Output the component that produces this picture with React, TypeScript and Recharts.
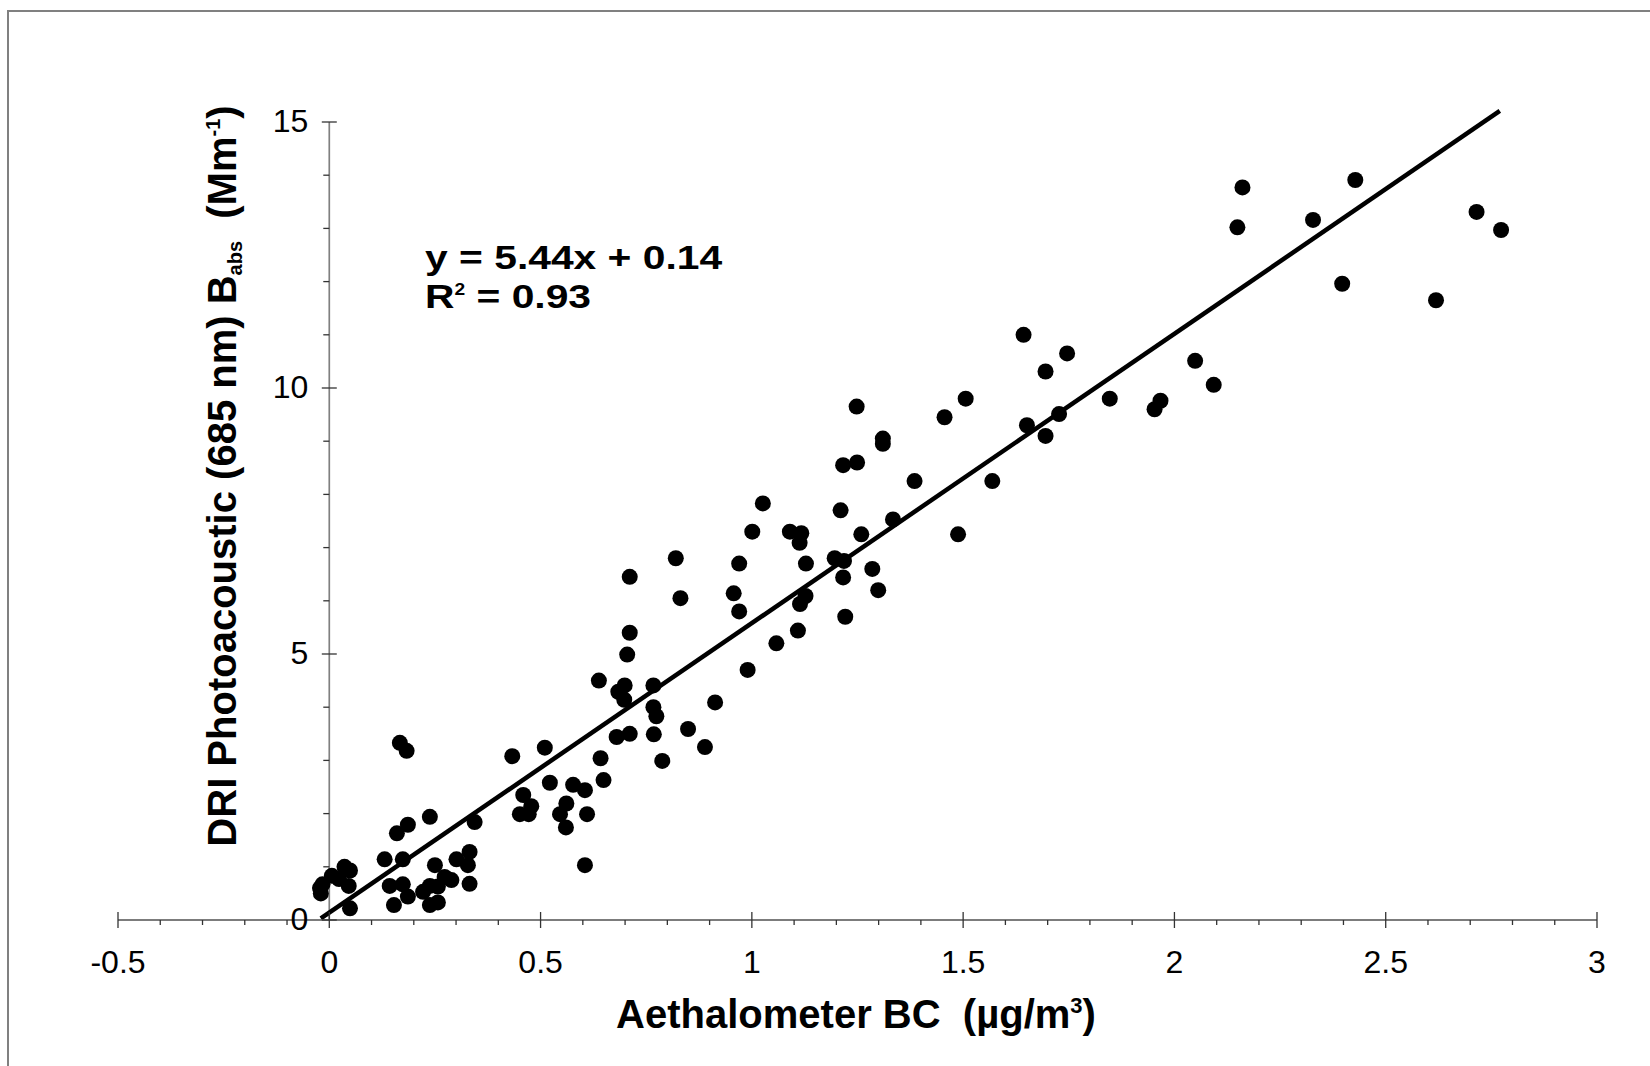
import React from "react";
import {
  ScatterChart,
  Scatter,
  XAxis,
  YAxis,
  ReferenceLine,
  ReferenceDot,
} from "recharts";

// Aethalometer BC (µg/m³)
const bcValues = [
  -0.02, -0.022, -0.016, 0.006, 0.023, 0.036, 0.049, 0.046, 0.049,
  0.131, 0.174, 0.16, 0.186, 0.238, 0.344,
  0.143, 0.174, 0.186, 0.153, 0.222, 0.25, 0.238, 0.257, 0.238, 0.257,
  0.289, 0.301, 0.328, 0.332, 0.332, 0.273, 0.167, 0.183,
  0.433, 0.51, 0.459, 0.478, 0.451, 0.472, 0.522, 0.577, 0.605, 0.561,
  0.546, 0.61, 0.56, 0.605, 0.642, 0.649, 0.638, 0.68, 0.711, 0.684,
  0.699, 0.698, 0.705, 0.711, 0.711, 0.767, 0.767, 0.774, 0.768, 0.788,
  0.849, 0.889, 0.913, 0.82, 0.831, 0.97, 0.957, 0.97, 0.99, 1.058,
  1.109, 1.114, 1.127, 1.128, 1.113, 1.117, 1.09, 1.001, 1.026, 1.196,
  1.218, 1.216, 1.221, 1.285, 1.299, 1.259, 1.21, 1.334, 1.488, 1.385,
  1.569, 1.216, 1.249, 1.31, 1.31, 1.248, 1.456, 1.506, 1.651, 1.695,
  1.727, 1.695, 1.746, 1.643, 1.847, 1.967, 1.953, 2.049, 2.093,
  2.161, 2.149, 2.428, 2.328, 2.397, 2.619, 2.715, 2.773,
];

// DRI Photoacoustic Babs at 685 nm (Mm⁻¹)
const babsValues = [
  0.5, 0.6, 0.67, 0.83, 0.77, 1.0, 0.93, 0.64, 0.22,
  1.14, 1.14, 1.63, 1.79, 1.94, 1.84,
  0.64, 0.67, 0.44, 0.28, 0.53, 1.03, 0.64, 0.63, 0.28, 0.33,
  0.75, 1.14, 1.03, 1.28, 0.68, 0.81, 3.33, 3.18,
  3.08, 3.24, 2.35, 2.14, 1.99, 1.99, 2.58, 2.54, 2.44, 2.19,
  1.99, 1.99, 1.74, 1.03, 3.04, 2.63, 4.5, 3.44, 3.5, 4.29,
  4.41, 4.14, 4.99, 5.4, 6.45, 4.41, 4.0, 3.83, 3.49, 2.99,
  3.59, 3.25, 4.09, 6.8, 6.05, 6.7, 6.14, 5.8, 4.7, 5.2,
  5.44, 5.94, 6.09, 6.7, 7.09, 7.27, 7.3, 7.3, 7.83, 6.8,
  6.75, 6.44, 5.7, 6.6, 6.2, 7.25, 7.7, 7.53, 7.25, 8.25,
  8.25, 8.55, 8.6, 9.05, 8.95, 9.65, 9.45, 9.8, 9.3, 9.1,
  9.51, 10.31, 10.65, 11.0, 9.8, 9.76, 9.6, 10.51, 10.06,
  13.77, 13.02, 13.91, 13.16, 11.96, 11.65, 13.31, 12.97,
];

const points = bcValues.map((x, i) => ({ x, y: babsValues[i] }));

// Linear fit shown on the chart
const fitSlope = 5.44;
const fitIntercept = 0.14;
const fitR2 = 0.93;
const fitRange = [-0.02, 2.77];
const fitSegment = fitRange.map((x) => ({ x, y: fitSlope * x + fitIntercept }));

const xDomain = [-0.5, 3];
const yDomain = [0, 15];
const xMajorTicks = [-0.5, 0, 0.5, 1, 1.5, 2, 2.5, 3];
const xMinorTicks = [
  -0.4, -0.3, -0.2, -0.1, 0.1, 0.2, 0.3, 0.4, 0.6, 0.7, 0.8, 0.9, 1.1, 1.2,
  1.3, 1.4, 1.6, 1.7, 1.8, 1.9, 2.1, 2.2, 2.3, 2.4, 2.6, 2.7, 2.8, 2.9,
];
const yMajorTicks = [0, 5, 10, 15];
const yMinorTicks = [1, 2, 3, 4, 6, 7, 8, 9, 11, 12, 13, 14];

const FONT = "'Liberation Sans', Arial, Helvetica, sans-serif";
const TICK_FONT_SIZE = 32;

const isMajor = (v: number) => xMajorTicks.some((t) => Math.abs(t - v) < 1e-6);

const XTick = (props: any) => {
  const { x, y, payload } = props;
  const v = payload.value as number;
  if (!isMajor(v)) {
    return (
      <line x1={x} x2={x} y1={y} y2={y + 5} stroke="#333" strokeWidth={1.3} />
    );
  }
  return (
    <g>
      <line x1={x} x2={x} y1={y - 8} y2={y + 8} stroke="#333" strokeWidth={1.3} />
      <text
        x={x}
        y={y + 53}
        textAnchor="middle"
        fontFamily={FONT}
        fontSize={TICK_FONT_SIZE}
        fill="#000"
      >
        {String(v)}
      </text>
    </g>
  );
};

const YMajorTickShape = (value: number) => (p: any) => (
  <g>
    <line x1={p.cx - 7.5} x2={p.cx + 7.5} y1={p.cy} y2={p.cy} stroke="#333" strokeWidth={1.3} />
    <text
      x={p.cx - 21}
      y={p.cy + 10}
      textAnchor="end"
      fontFamily={FONT}
      fontSize={TICK_FONT_SIZE}
      fill="#000"
    >
      {String(value)}
    </text>
  </g>
);

const YMinorTickShape = (p: any) => (
  <line x1={p.cx - 6} x2={p.cx} y1={p.cy} y2={p.cy} stroke="#333" strokeWidth={1.3} />
);

const Dot = (p: any) => <circle cx={p.cx} cy={p.cy} r={8} fill="#000" />;

export default function App() {
  return (
    <div
      style={{
        position: "relative",
        width: 1650,
        height: 1066,
        overflow: "hidden",
        background: "#fff",
      }}
    >
      <style>{`body{margin:0;}`}</style>
      {/* chart area frame */}
      <div
        style={{
          position: "absolute",
          left: 7,
          top: 10,
          width: 1800,
          height: 1200,
          border: "2px solid #808080",
        }}
      />
      <div style={{ position: "absolute", left: 0, top: 0 }}>
        <ScatterChart
          width={1650}
          height={1066}
          margin={{ top: 122, right: 53, bottom: 86, left: 118 }}
        >
          <XAxis
            type="number"
            dataKey="x"
            domain={xDomain}
            ticks={[...xMajorTicks, ...xMinorTicks].sort((a, b) => a - b)}
            interval={0}
            height={60}
            tickSize={0}
            tickMargin={0}
            tickLine={false}
            axisLine={{ stroke: "#505050", strokeWidth: 1.6 }}
            tick={<XTick />}
            allowDataOverflow
          />
          <YAxis type="number" dataKey="y" domain={yDomain} hide allowDataOverflow />
          <ReferenceLine
            segment={[
              { x: 0, y: yDomain[0] },
              { x: 0, y: yDomain[1] },
            ]}
            stroke="#808080"
            strokeWidth={1.7}
            ifOverflow="visible"
          />
          {yMinorTicks.map((v) => (
            <ReferenceDot
              key={`ymin-${v}`}
              x={0}
              y={v}
              r={0}
              ifOverflow="visible"
              shape={YMinorTickShape}
            />
          ))}
          {yMajorTicks.map((v) => (
            <ReferenceDot
              key={`ymaj-${v}`}
              x={0}
              y={v}
              r={0}
              ifOverflow="visible"
              shape={YMajorTickShape(v)}
            />
          ))}
          <Scatter data={points} shape={Dot} isAnimationActive={false} />
          <ReferenceLine
            segment={fitSegment}
            stroke="#000"
            strokeWidth={4.5}
            ifOverflow="visible"
          />
        </ScatterChart>
      </div>
      <svg
        width={1650}
        height={1066}
        style={{ position: "absolute", left: 0, top: 0, pointerEvents: "none" }}
        fontFamily={FONT}
      >
        {/* fit equation, set in a wide bold face */}
        <g fontWeight="bold" fontSize={34} fill="#000">
          <text transform="translate(425, 269) scale(1.2, 1)">
            y = {fitSlope.toFixed(2)}x + {fitIntercept.toFixed(2)}
          </text>
          <text transform="translate(425, 308) scale(1.2, 1)">
            R<tspan fontSize={16} dy={-13}>2</tspan>
            <tspan dy={13}> = {fitR2.toFixed(2)}</tspan>
          </text>
        </g>
        <text
          x={856}
          y={1028}
          textAnchor="middle"
          fontWeight="bold"
          fontSize={40}
          fill="#000"
        >
          Aethalometer BC{"\u00a0\u00a0"}(µg/m<tspan fontSize={22} dy={-15}>3</tspan>
          <tspan dy={15}>)</tspan>
        </text>
        <text
          transform="translate(236, 476) rotate(-90)"
          textAnchor="middle"
          fontWeight="bold"
          fontSize={40}
          fill="#000"
        >
          DRI Photoacoustic (685 nm) B<tspan fontSize={20} dy={6}>abs</tspan>
          <tspan dy={-6}>{"\u00a0\u00a0"}(Mm</tspan>
          <tspan fontSize={20} dy={-16}>-1</tspan>
          <tspan dy={16}>)</tspan>
        </text>
      </svg>
    </div>
  );
}
